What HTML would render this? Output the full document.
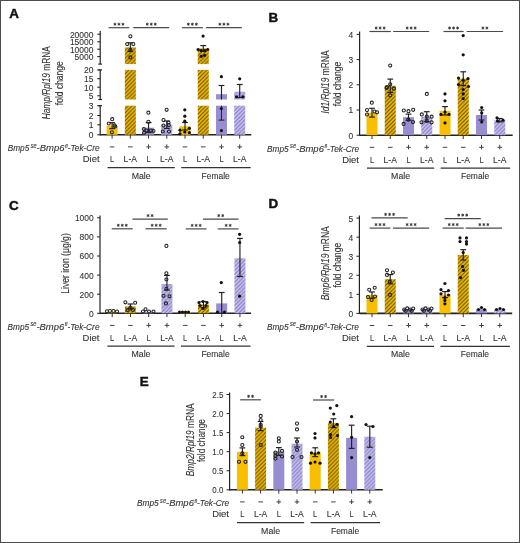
<!DOCTYPE html>
<html><head><meta charset="utf-8"><style>html,body{margin:0;padding:0;background:#fff;width:520px;height:543px;overflow:hidden} svg text{font-family:"Liberation Sans", sans-serif;stroke:#333;stroke-width:0.1px}</style></head>
<body><svg width="520" height="543" viewBox="0 0 520 543" style="display:block;filter:blur(0.4px)"><defs>
<pattern id="hy" patternUnits="userSpaceOnUse" width="3.9" height="3.9">
<rect width="3.9" height="3.9" fill="#f7bf00"/>
<path d="M-0.975,0.975 l1.95,-1.95 M0,3.9 l3.9,-3.9 M2.925,4.875 l1.95,-1.95" stroke="#664f00" stroke-width="1.15"/>
</pattern>
<pattern id="hp" patternUnits="userSpaceOnUse" width="3.9" height="3.9">
<rect width="3.9" height="3.9" fill="#8b83cb"/>
<path d="M-0.975,0.975 l1.95,-1.95 M0,3.9 l3.9,-3.9 M2.925,4.875 l1.95,-1.95" stroke="#d2cdf2" stroke-width="1.25"/>
</pattern>
</defs><rect x="0.5" y="0.5" width="519" height="542" fill="#fff" stroke="#4d4d4d" stroke-width="1"/><text x="9.2" y="18.2" font-size="13.4" font-weight="bold" fill="#111" style="stroke:#111;stroke-width:0.45px">A</text>
<line x1="100.20" y1="31.00" x2="100.20" y2="64.10" stroke="#222" stroke-width="1.2"/>
<line x1="98.40" y1="64.10" x2="102.00" y2="64.10" stroke="#222" stroke-width="1.2"/>
<line x1="100.20" y1="69.90" x2="100.20" y2="99.50" stroke="#222" stroke-width="1.2"/>
<line x1="98.40" y1="69.90" x2="102.00" y2="69.90" stroke="#222" stroke-width="1.2"/>
<line x1="98.40" y1="99.50" x2="102.00" y2="99.50" stroke="#222" stroke-width="1.2"/>
<line x1="100.20" y1="105.70" x2="100.20" y2="135.40" stroke="#222" stroke-width="1.2"/>
<line x1="98.40" y1="105.70" x2="102.00" y2="105.70" stroke="#222" stroke-width="1.2"/>
<line x1="97.20" y1="34.20" x2="100.20" y2="34.20" stroke="#222" stroke-width="1.0"/>
<text x="93.40" y="37.50" font-size="9.3" text-anchor="end" font-weight="normal" style="" fill="#333" textLength="23.5" lengthAdjust="spacingAndGlyphs" >20000</text>
<line x1="97.20" y1="41.80" x2="100.20" y2="41.80" stroke="#222" stroke-width="1.0"/>
<text x="93.40" y="45.10" font-size="9.3" text-anchor="end" font-weight="normal" style="" fill="#333" textLength="23.5" lengthAdjust="spacingAndGlyphs" >15000</text>
<line x1="97.20" y1="49.20" x2="100.20" y2="49.20" stroke="#222" stroke-width="1.0"/>
<text x="93.40" y="52.50" font-size="9.3" text-anchor="end" font-weight="normal" style="" fill="#333" textLength="23.5" lengthAdjust="spacingAndGlyphs" >10000</text>
<line x1="97.20" y1="56.60" x2="100.20" y2="56.60" stroke="#222" stroke-width="1.0"/>
<text x="93.40" y="59.90" font-size="9.3" text-anchor="end" font-weight="normal" style="" fill="#333" textLength="18.8" lengthAdjust="spacingAndGlyphs" >5000</text>
<line x1="97.20" y1="70.00" x2="100.20" y2="70.00" stroke="#222" stroke-width="1.0"/>
<text x="93.40" y="73.30" font-size="9.3" text-anchor="end" font-weight="normal" style="" fill="#333" textLength="9.4" lengthAdjust="spacingAndGlyphs" >20</text>
<line x1="97.20" y1="78.70" x2="100.20" y2="78.70" stroke="#222" stroke-width="1.0"/>
<text x="93.40" y="82.00" font-size="9.3" text-anchor="end" font-weight="normal" style="" fill="#333" textLength="9.4" lengthAdjust="spacingAndGlyphs" >15</text>
<line x1="97.20" y1="87.20" x2="100.20" y2="87.20" stroke="#222" stroke-width="1.0"/>
<text x="93.40" y="90.50" font-size="9.3" text-anchor="end" font-weight="normal" style="" fill="#333" textLength="9.4" lengthAdjust="spacingAndGlyphs" >10</text>
<line x1="97.20" y1="95.80" x2="100.20" y2="95.80" stroke="#222" stroke-width="1.0"/>
<text x="93.40" y="99.10" font-size="9.3" text-anchor="end" font-weight="normal" style="" fill="#333" textLength="4.7" lengthAdjust="spacingAndGlyphs" >5</text>
<line x1="97.20" y1="105.70" x2="100.20" y2="105.70" stroke="#222" stroke-width="1.0"/>
<text x="93.40" y="109.00" font-size="9.3" text-anchor="end" font-weight="normal" style="" fill="#333" textLength="4.7" lengthAdjust="spacingAndGlyphs" >3</text>
<line x1="97.20" y1="115.50" x2="100.20" y2="115.50" stroke="#222" stroke-width="1.0"/>
<text x="93.40" y="118.80" font-size="9.3" text-anchor="end" font-weight="normal" style="" fill="#333" textLength="4.7" lengthAdjust="spacingAndGlyphs" >2</text>
<line x1="97.20" y1="124.80" x2="100.20" y2="124.80" stroke="#222" stroke-width="1.0"/>
<text x="93.40" y="128.10" font-size="9.3" text-anchor="end" font-weight="normal" style="" fill="#333" textLength="4.7" lengthAdjust="spacingAndGlyphs" >1</text>
<line x1="97.20" y1="134.80" x2="100.20" y2="134.80" stroke="#222" stroke-width="1.0"/>
<text x="93.40" y="138.10" font-size="9.3" text-anchor="end" font-weight="normal" style="" fill="#333" textLength="4.7" lengthAdjust="spacingAndGlyphs" >0</text>
<line x1="100.20" y1="134.80" x2="251.30" y2="134.80" stroke="#222" stroke-width="1.6"/>
<text transform="translate(49.6,82.8) rotate(-90)" x="0" y="0" font-size="10.2" text-anchor="middle" fill="#333" textLength="73" lengthAdjust="spacingAndGlyphs"><tspan style="font-style:italic">Hamp/Rpl19</tspan><tspan style="font-style:normal"> mRNA</tspan></text>
<text transform="translate(63.0,83.2) rotate(-90)" x="0" y="0" font-size="10.2" text-anchor="middle" fill="#333" textLength="44" lengthAdjust="spacingAndGlyphs"><tspan style="font-style:normal">fold change</tspan></text>
<rect x="106.60" y="125.80" width="11.00" height="9.00" fill="#f7bf00"/>
<rect x="124.83" y="105.70" width="11.00" height="29.10" fill="url(#hy)"/>
<rect x="124.83" y="69.90" width="11.00" height="29.60" fill="url(#hy)"/>
<rect x="124.83" y="47.40" width="11.00" height="16.70" fill="url(#hy)"/>
<rect x="143.06" y="127.70" width="11.00" height="7.10" fill="#978ed1"/>
<rect x="161.29" y="124.70" width="11.00" height="10.10" fill="url(#hp)"/>
<rect x="179.52" y="126.30" width="11.00" height="8.50" fill="#f7bf00"/>
<rect x="197.75" y="105.70" width="11.00" height="29.10" fill="url(#hy)"/>
<rect x="197.75" y="69.90" width="11.00" height="29.60" fill="url(#hy)"/>
<rect x="197.75" y="48.50" width="11.00" height="15.60" fill="url(#hy)"/>
<rect x="215.98" y="105.70" width="11.00" height="29.10" fill="#978ed1"/>
<rect x="215.98" y="94.20" width="11.00" height="5.30" fill="#978ed1"/>
<rect x="234.21" y="105.70" width="11.00" height="29.10" fill="url(#hp)"/>
<rect x="234.21" y="91.70" width="11.00" height="7.80" fill="url(#hp)"/>
<line x1="112.10" y1="122.70" x2="112.10" y2="128.60" stroke="#222" stroke-width="1.15"/>
<line x1="109.20" y1="122.70" x2="115.00" y2="122.70" stroke="#222" stroke-width="1.2"/>
<line x1="109.20" y1="128.60" x2="115.00" y2="128.60" stroke="#222" stroke-width="1.2"/>
<line x1="130.33" y1="42.80" x2="130.33" y2="51.50" stroke="#222" stroke-width="1.15"/>
<line x1="127.43" y1="42.80" x2="133.23" y2="42.80" stroke="#222" stroke-width="1.2"/>
<line x1="127.43" y1="51.50" x2="133.23" y2="51.50" stroke="#222" stroke-width="1.2"/>
<line x1="148.56" y1="122.60" x2="148.56" y2="132.50" stroke="#222" stroke-width="1.15"/>
<line x1="145.66" y1="122.60" x2="151.46" y2="122.60" stroke="#222" stroke-width="1.2"/>
<line x1="145.66" y1="132.50" x2="151.46" y2="132.50" stroke="#222" stroke-width="1.2"/>
<line x1="166.79" y1="121.00" x2="166.79" y2="128.40" stroke="#222" stroke-width="1.15"/>
<line x1="163.89" y1="121.00" x2="169.69" y2="121.00" stroke="#222" stroke-width="1.2"/>
<line x1="163.89" y1="128.40" x2="169.69" y2="128.40" stroke="#222" stroke-width="1.2"/>
<line x1="185.02" y1="122.50" x2="185.02" y2="130.00" stroke="#222" stroke-width="1.15"/>
<line x1="182.12" y1="122.50" x2="187.92" y2="122.50" stroke="#222" stroke-width="1.2"/>
<line x1="182.12" y1="130.00" x2="187.92" y2="130.00" stroke="#222" stroke-width="1.2"/>
<line x1="203.25" y1="45.60" x2="203.25" y2="51.40" stroke="#222" stroke-width="1.15"/>
<line x1="200.35" y1="45.60" x2="206.15" y2="45.60" stroke="#222" stroke-width="1.2"/>
<line x1="200.35" y1="51.40" x2="206.15" y2="51.40" stroke="#222" stroke-width="1.2"/>
<line x1="221.48" y1="85.50" x2="221.48" y2="99.50" stroke="#222" stroke-width="1.15"/>
<line x1="218.58" y1="85.50" x2="224.38" y2="85.50" stroke="#222" stroke-width="1.2"/>
<line x1="221.48" y1="105.70" x2="221.48" y2="120.10" stroke="#222" stroke-width="1.0"/>
<line x1="218.58" y1="120.10" x2="224.38" y2="120.10" stroke="#222" stroke-width="1.1"/>
<line x1="239.71" y1="84.50" x2="239.71" y2="97.50" stroke="#222" stroke-width="1.15"/>
<line x1="236.81" y1="84.50" x2="242.61" y2="84.50" stroke="#222" stroke-width="1.2"/>
<line x1="236.81" y1="97.50" x2="242.61" y2="97.50" stroke="#222" stroke-width="1.2"/>
<circle cx="112.20" cy="119.20" r="1.55" fill="none" stroke="#222" stroke-width="1.05"/>
<circle cx="108.80" cy="123.50" r="1.55" fill="none" stroke="#222" stroke-width="1.05"/>
<circle cx="114.60" cy="125.40" r="1.55" fill="none" stroke="#222" stroke-width="1.05"/>
<circle cx="115.20" cy="126.50" r="1.55" fill="none" stroke="#222" stroke-width="1.05"/>
<circle cx="111.90" cy="132.20" r="1.55" fill="none" stroke="#222" stroke-width="1.05"/>
<circle cx="130.40" cy="36.30" r="1.55" fill="none" stroke="#222" stroke-width="1.05"/>
<circle cx="127.20" cy="44.10" r="1.55" fill="none" stroke="#222" stroke-width="1.05"/>
<circle cx="133.30" cy="44.10" r="1.55" fill="none" stroke="#222" stroke-width="1.05"/>
<circle cx="130.40" cy="49.90" r="1.55" fill="none" stroke="#222" stroke-width="1.05"/>
<circle cx="130.40" cy="57.40" r="1.55" fill="none" stroke="#222" stroke-width="1.05"/>
<circle cx="148.40" cy="112.70" r="1.55" fill="none" stroke="#222" stroke-width="1.05"/>
<circle cx="148.40" cy="121.80" r="1.55" fill="none" stroke="#222" stroke-width="1.05"/>
<circle cx="143.80" cy="129.00" r="1.55" fill="none" stroke="#222" stroke-width="1.05"/>
<circle cx="146.50" cy="130.50" r="1.55" fill="none" stroke="#222" stroke-width="1.05"/>
<circle cx="151.00" cy="130.50" r="1.55" fill="none" stroke="#222" stroke-width="1.05"/>
<circle cx="153.50" cy="131.00" r="1.55" fill="none" stroke="#222" stroke-width="1.05"/>
<circle cx="144.00" cy="132.80" r="1.55" fill="none" stroke="#222" stroke-width="1.05"/>
<circle cx="166.60" cy="109.80" r="1.55" fill="none" stroke="#222" stroke-width="1.05"/>
<circle cx="163.50" cy="120.10" r="1.55" fill="none" stroke="#222" stroke-width="1.05"/>
<circle cx="168.50" cy="122.50" r="1.55" fill="none" stroke="#222" stroke-width="1.05"/>
<circle cx="163.50" cy="125.50" r="1.55" fill="none" stroke="#222" stroke-width="1.05"/>
<circle cx="168.80" cy="125.20" r="1.55" fill="none" stroke="#222" stroke-width="1.05"/>
<circle cx="162.80" cy="131.50" r="1.55" fill="none" stroke="#222" stroke-width="1.05"/>
<circle cx="169.00" cy="131.50" r="1.55" fill="none" stroke="#222" stroke-width="1.05"/>
<circle cx="184.80" cy="109.80" r="1.6" fill="#111"/>
<circle cx="184.80" cy="116.20" r="1.6" fill="#111"/>
<circle cx="184.80" cy="121.20" r="1.6" fill="#111"/>
<circle cx="180.00" cy="130.20" r="1.6" fill="#111"/>
<circle cx="189.40" cy="128.30" r="1.6" fill="#111"/>
<circle cx="184.80" cy="131.90" r="1.6" fill="#111"/>
<circle cx="189.40" cy="132.70" r="1.6" fill="#111"/>
<circle cx="180.00" cy="133.80" r="1.6" fill="#111"/>
<circle cx="203.10" cy="36.10" r="1.6" fill="#111"/>
<circle cx="198.10" cy="49.50" r="1.6" fill="#111"/>
<circle cx="201.20" cy="50.70" r="1.6" fill="#111"/>
<circle cx="204.80" cy="50.70" r="1.6" fill="#111"/>
<circle cx="207.70" cy="49.50" r="1.6" fill="#111"/>
<circle cx="201.20" cy="56.30" r="1.6" fill="#111"/>
<circle cx="204.60" cy="55.30" r="1.6" fill="#111"/>
<circle cx="221.40" cy="76.70" r="1.6" fill="#111"/>
<circle cx="221.40" cy="108.50" r="1.6" fill="#111"/>
<circle cx="221.40" cy="130.60" r="1.6" fill="#111"/>
<circle cx="239.70" cy="78.80" r="1.6" fill="#111"/>
<circle cx="236.50" cy="96.80" r="1.6" fill="#111"/>
<circle cx="243.00" cy="96.80" r="1.6" fill="#111"/>
<line x1="108.60" y1="27.70" x2="129.30" y2="27.70" stroke="#4a4a4a" stroke-width="1.2"/>
<path d="M114.95,22.70V25.70M113.65,23.45L116.25,24.95M113.65,24.95L116.25,23.45" stroke="#333" stroke-width="0.9"/>
<path d="M118.95,22.70V25.70M117.65,23.45L120.25,24.95M117.65,24.95L120.25,23.45" stroke="#333" stroke-width="0.9"/>
<path d="M122.95,22.70V25.70M121.65,23.45L124.25,24.95M121.65,24.95L124.25,23.45" stroke="#333" stroke-width="0.9"/>
<line x1="133.30" y1="27.70" x2="169.20" y2="27.70" stroke="#4a4a4a" stroke-width="1.2"/>
<path d="M147.25,22.70V25.70M145.95,23.45L148.55,24.95M145.95,24.95L148.55,23.45" stroke="#333" stroke-width="0.9"/>
<path d="M151.25,22.70V25.70M149.95,23.45L152.55,24.95M149.95,24.95L152.55,23.45" stroke="#333" stroke-width="0.9"/>
<path d="M155.25,22.70V25.70M153.95,23.45L156.55,24.95M153.95,24.95L156.55,23.45" stroke="#333" stroke-width="0.9"/>
<line x1="181.80" y1="27.70" x2="202.90" y2="27.70" stroke="#4a4a4a" stroke-width="1.2"/>
<path d="M188.35,22.70V25.70M187.05,23.45L189.65,24.95M187.05,24.95L189.65,23.45" stroke="#333" stroke-width="0.9"/>
<path d="M192.35,22.70V25.70M191.05,23.45L193.65,24.95M191.05,24.95L193.65,23.45" stroke="#333" stroke-width="0.9"/>
<path d="M196.35,22.70V25.70M195.05,23.45L197.65,24.95M195.05,24.95L197.65,23.45" stroke="#333" stroke-width="0.9"/>
<line x1="206.00" y1="27.70" x2="241.80" y2="27.70" stroke="#4a4a4a" stroke-width="1.2"/>
<path d="M219.90,22.70V25.70M218.60,23.45L221.20,24.95M218.60,24.95L221.20,23.45" stroke="#333" stroke-width="0.9"/>
<path d="M223.90,22.70V25.70M222.60,23.45L225.20,24.95M222.60,24.95L225.20,23.45" stroke="#333" stroke-width="0.9"/>
<path d="M227.90,22.70V25.70M226.60,23.45L229.20,24.95M226.60,24.95L229.20,23.45" stroke="#333" stroke-width="0.9"/>
<line x1="112.10" y1="134.80" x2="112.10" y2="138.60" stroke="#333" stroke-width="1.0"/>
<line x1="109.80" y1="146.90" x2="114.40" y2="146.90" stroke="#444" stroke-width="1.0"/>
<text x="112.10" y="162.20" font-size="8.3" text-anchor="middle" font-weight="normal" style="" fill="#333" textLength="4.2" lengthAdjust="spacingAndGlyphs" >L</text>
<line x1="130.33" y1="134.80" x2="130.33" y2="138.60" stroke="#333" stroke-width="1.0"/>
<line x1="128.03" y1="146.90" x2="132.63" y2="146.90" stroke="#444" stroke-width="1.0"/>
<text x="130.33" y="162.20" font-size="8.3" text-anchor="middle" font-weight="normal" style="" fill="#333" textLength="13.4" lengthAdjust="spacingAndGlyphs" >L-A</text>
<line x1="148.56" y1="134.80" x2="148.56" y2="138.60" stroke="#333" stroke-width="1.0"/>
<line x1="146.26" y1="146.90" x2="150.86" y2="146.90" stroke="#444" stroke-width="1.0"/>
<line x1="148.56" y1="144.40" x2="148.56" y2="149.00" stroke="#444" stroke-width="1.0"/>
<text x="148.56" y="162.20" font-size="8.3" text-anchor="middle" font-weight="normal" style="" fill="#333" textLength="4.2" lengthAdjust="spacingAndGlyphs" >L</text>
<line x1="166.79" y1="134.80" x2="166.79" y2="138.60" stroke="#333" stroke-width="1.0"/>
<line x1="164.49" y1="146.90" x2="169.09" y2="146.90" stroke="#444" stroke-width="1.0"/>
<line x1="166.79" y1="144.40" x2="166.79" y2="149.00" stroke="#444" stroke-width="1.0"/>
<text x="166.79" y="162.20" font-size="8.3" text-anchor="middle" font-weight="normal" style="" fill="#333" textLength="13.4" lengthAdjust="spacingAndGlyphs" >L-A</text>
<line x1="185.02" y1="134.80" x2="185.02" y2="138.60" stroke="#333" stroke-width="1.0"/>
<line x1="182.72" y1="146.90" x2="187.32" y2="146.90" stroke="#444" stroke-width="1.0"/>
<text x="185.02" y="162.20" font-size="8.3" text-anchor="middle" font-weight="normal" style="" fill="#333" textLength="4.2" lengthAdjust="spacingAndGlyphs" >L</text>
<line x1="203.25" y1="134.80" x2="203.25" y2="138.60" stroke="#333" stroke-width="1.0"/>
<line x1="200.95" y1="146.90" x2="205.55" y2="146.90" stroke="#444" stroke-width="1.0"/>
<text x="203.25" y="162.20" font-size="8.3" text-anchor="middle" font-weight="normal" style="" fill="#333" textLength="13.4" lengthAdjust="spacingAndGlyphs" >L-A</text>
<line x1="221.48" y1="134.80" x2="221.48" y2="138.60" stroke="#333" stroke-width="1.0"/>
<line x1="219.18" y1="146.90" x2="223.78" y2="146.90" stroke="#444" stroke-width="1.0"/>
<line x1="221.48" y1="144.40" x2="221.48" y2="149.00" stroke="#444" stroke-width="1.0"/>
<text x="221.48" y="162.20" font-size="8.3" text-anchor="middle" font-weight="normal" style="" fill="#333" textLength="4.2" lengthAdjust="spacingAndGlyphs" >L</text>
<line x1="239.71" y1="134.80" x2="239.71" y2="138.60" stroke="#333" stroke-width="1.0"/>
<line x1="237.41" y1="146.90" x2="242.01" y2="146.90" stroke="#444" stroke-width="1.0"/>
<line x1="239.71" y1="144.40" x2="239.71" y2="149.00" stroke="#444" stroke-width="1.0"/>
<text x="239.71" y="162.20" font-size="8.3" text-anchor="middle" font-weight="normal" style="" fill="#333" textLength="13.4" lengthAdjust="spacingAndGlyphs" >L-A</text>
<line x1="107.60" y1="167.70" x2="174.80" y2="167.70" stroke="#333" stroke-width="1.3"/>
<line x1="181.20" y1="167.70" x2="250.70" y2="167.70" stroke="#333" stroke-width="1.3"/>
<text x="141.20" y="178.60" font-size="8.3" text-anchor="middle" font-weight="normal" style="" fill="#333" textLength="19" lengthAdjust="spacingAndGlyphs" >Male</text>
<text x="215.70" y="178.60" font-size="8.3" text-anchor="middle" font-weight="normal" style="" fill="#333" textLength="28.2" lengthAdjust="spacingAndGlyphs" >Female</text>
<text x="7.70" y="151.10" font-size="8.3" style="font-style:italic" fill="#333" textLength="21.6" lengthAdjust="spacingAndGlyphs">Bmp5</text>
<text x="30.70" y="147.50" font-size="7.4" style="font-style:italic" fill="#333" textLength="6.0" lengthAdjust="spacingAndGlyphs">se</text>
<text x="36.60" y="151.10" font-size="8.3" style="font-style:italic" fill="#333" textLength="27.9" lengthAdjust="spacingAndGlyphs">-Bmp6</text>
<text x="65.00" y="147.90" font-size="6.0" style="font-style:italic" fill="#333" textLength="2.6" lengthAdjust="spacingAndGlyphs">fl</text>
<text x="67.70" y="151.10" font-size="8.3" style="font-style:italic" fill="#333" textLength="32.0" lengthAdjust="spacingAndGlyphs">-Tek-Cre</text>
<text x="99.60" y="162.20" font-size="8.3" text-anchor="end" font-weight="normal" style="" fill="#333" textLength="16.8" lengthAdjust="spacingAndGlyphs" >Diet</text>
<text x="268.6" y="21.9" font-size="13.4" font-weight="bold" fill="#111" style="stroke:#111;stroke-width:0.45px">B</text>
<line x1="359.60" y1="31.50" x2="359.60" y2="135.80" stroke="#222" stroke-width="1.2"/>
<line x1="356.60" y1="135.20" x2="359.60" y2="135.20" stroke="#222" stroke-width="1.0"/>
<text x="353.30" y="138.65" font-size="9.6" text-anchor="end" font-weight="normal" style="" fill="#333" textLength="4.7" lengthAdjust="spacingAndGlyphs" >0</text>
<line x1="356.60" y1="110.00" x2="359.60" y2="110.00" stroke="#222" stroke-width="1.0"/>
<text x="353.30" y="113.45" font-size="9.6" text-anchor="end" font-weight="normal" style="" fill="#333" textLength="4.7" lengthAdjust="spacingAndGlyphs" >1</text>
<line x1="356.60" y1="84.80" x2="359.60" y2="84.80" stroke="#222" stroke-width="1.0"/>
<text x="353.30" y="88.25" font-size="9.6" text-anchor="end" font-weight="normal" style="" fill="#333" textLength="4.7" lengthAdjust="spacingAndGlyphs" >2</text>
<line x1="356.60" y1="59.60" x2="359.60" y2="59.60" stroke="#222" stroke-width="1.0"/>
<text x="353.30" y="63.05" font-size="9.6" text-anchor="end" font-weight="normal" style="" fill="#333" textLength="4.7" lengthAdjust="spacingAndGlyphs" >3</text>
<line x1="356.60" y1="34.40" x2="359.60" y2="34.40" stroke="#222" stroke-width="1.0"/>
<text x="353.30" y="37.85" font-size="9.6" text-anchor="end" font-weight="normal" style="" fill="#333" textLength="4.7" lengthAdjust="spacingAndGlyphs" >4</text>
<line x1="359.60" y1="135.20" x2="512.70" y2="135.20" stroke="#222" stroke-width="1.6"/>
<text transform="translate(328.6,82.0) rotate(-90)" x="0" y="0" font-size="10.2" text-anchor="middle" fill="#333" textLength="63" lengthAdjust="spacingAndGlyphs"><tspan style="font-style:italic">Id1/Rpl19</tspan><tspan style="font-style:normal"> mRNA</tspan></text>
<text transform="translate(341.0,84.0) rotate(-90)" x="0" y="0" font-size="10.2" text-anchor="middle" fill="#333" textLength="44.5" lengthAdjust="spacingAndGlyphs"><tspan style="font-style:normal">fold change</tspan></text>
<rect x="366.50" y="112.70" width="11.00" height="22.50" fill="#f7bf00"/>
<rect x="384.75" y="85.80" width="11.00" height="49.40" fill="url(#hy)"/>
<rect x="403.00" y="117.20" width="11.00" height="18.00" fill="#978ed1"/>
<rect x="421.25" y="116.70" width="11.00" height="18.50" fill="url(#hp)"/>
<rect x="439.50" y="110.80" width="11.00" height="24.40" fill="#f7bf00"/>
<rect x="457.75" y="78.70" width="11.00" height="56.50" fill="url(#hy)"/>
<rect x="476.00" y="115.00" width="11.00" height="20.20" fill="#978ed1"/>
<rect x="494.25" y="120.20" width="11.00" height="15.00" fill="url(#hp)"/>
<line x1="372.00" y1="108.30" x2="372.00" y2="117.10" stroke="#222" stroke-width="1.15"/>
<line x1="369.10" y1="108.30" x2="374.90" y2="108.30" stroke="#222" stroke-width="1.2"/>
<line x1="369.10" y1="117.10" x2="374.90" y2="117.10" stroke="#222" stroke-width="1.2"/>
<line x1="390.25" y1="79.10" x2="390.25" y2="92.50" stroke="#222" stroke-width="1.15"/>
<line x1="387.35" y1="79.10" x2="393.15" y2="79.10" stroke="#222" stroke-width="1.2"/>
<line x1="387.35" y1="92.50" x2="393.15" y2="92.50" stroke="#222" stroke-width="1.2"/>
<line x1="408.50" y1="114.10" x2="408.50" y2="120.30" stroke="#222" stroke-width="1.15"/>
<line x1="405.60" y1="114.10" x2="411.40" y2="114.10" stroke="#222" stroke-width="1.2"/>
<line x1="405.60" y1="120.30" x2="411.40" y2="120.30" stroke="#222" stroke-width="1.2"/>
<line x1="426.75" y1="111.70" x2="426.75" y2="121.70" stroke="#222" stroke-width="1.15"/>
<line x1="423.85" y1="111.70" x2="429.65" y2="111.70" stroke="#222" stroke-width="1.2"/>
<line x1="423.85" y1="121.70" x2="429.65" y2="121.70" stroke="#222" stroke-width="1.2"/>
<line x1="445.00" y1="106.60" x2="445.00" y2="115.00" stroke="#222" stroke-width="1.15"/>
<line x1="442.10" y1="106.60" x2="447.90" y2="106.60" stroke="#222" stroke-width="1.2"/>
<line x1="442.10" y1="115.00" x2="447.90" y2="115.00" stroke="#222" stroke-width="1.2"/>
<line x1="463.25" y1="71.80" x2="463.25" y2="85.60" stroke="#222" stroke-width="1.15"/>
<line x1="460.35" y1="71.80" x2="466.15" y2="71.80" stroke="#222" stroke-width="1.2"/>
<line x1="460.35" y1="85.60" x2="466.15" y2="85.60" stroke="#222" stroke-width="1.2"/>
<line x1="481.50" y1="110.00" x2="481.50" y2="120.00" stroke="#222" stroke-width="1.15"/>
<line x1="478.60" y1="110.00" x2="484.40" y2="110.00" stroke="#222" stroke-width="1.2"/>
<line x1="478.60" y1="120.00" x2="484.40" y2="120.00" stroke="#222" stroke-width="1.2"/>
<line x1="499.75" y1="118.50" x2="499.75" y2="121.90" stroke="#222" stroke-width="1.15"/>
<line x1="496.85" y1="118.50" x2="502.65" y2="118.50" stroke="#222" stroke-width="1.2"/>
<line x1="496.85" y1="121.90" x2="502.65" y2="121.90" stroke="#222" stroke-width="1.2"/>
<circle cx="371.80" cy="102.70" r="1.55" fill="none" stroke="#222" stroke-width="1.05"/>
<circle cx="367.00" cy="110.10" r="1.55" fill="none" stroke="#222" stroke-width="1.05"/>
<circle cx="377.00" cy="112.30" r="1.55" fill="none" stroke="#222" stroke-width="1.05"/>
<circle cx="367.00" cy="114.50" r="1.55" fill="none" stroke="#222" stroke-width="1.05"/>
<circle cx="374.50" cy="111.50" r="1.55" fill="none" stroke="#222" stroke-width="1.05"/>
<circle cx="390.20" cy="65.60" r="1.55" fill="none" stroke="#222" stroke-width="1.05"/>
<circle cx="390.20" cy="84.30" r="1.55" fill="none" stroke="#222" stroke-width="1.05"/>
<circle cx="387.00" cy="87.20" r="1.55" fill="none" stroke="#222" stroke-width="1.05"/>
<circle cx="394.00" cy="88.70" r="1.55" fill="none" stroke="#222" stroke-width="1.05"/>
<circle cx="390.20" cy="95.30" r="1.55" fill="none" stroke="#222" stroke-width="1.05"/>
<circle cx="386.50" cy="88.00" r="1.55" fill="none" stroke="#222" stroke-width="1.05"/>
<circle cx="403.80" cy="110.50" r="1.55" fill="none" stroke="#222" stroke-width="1.05"/>
<circle cx="408.50" cy="111.20" r="1.55" fill="none" stroke="#222" stroke-width="1.05"/>
<circle cx="413.20" cy="109.80" r="1.55" fill="none" stroke="#222" stroke-width="1.05"/>
<circle cx="408.30" cy="119.70" r="1.55" fill="none" stroke="#222" stroke-width="1.05"/>
<circle cx="403.60" cy="123.90" r="1.55" fill="none" stroke="#222" stroke-width="1.05"/>
<circle cx="413.00" cy="122.10" r="1.55" fill="none" stroke="#222" stroke-width="1.05"/>
<circle cx="426.80" cy="93.90" r="1.55" fill="none" stroke="#222" stroke-width="1.05"/>
<circle cx="421.80" cy="114.40" r="1.55" fill="none" stroke="#222" stroke-width="1.05"/>
<circle cx="426.80" cy="116.70" r="1.55" fill="none" stroke="#222" stroke-width="1.05"/>
<circle cx="431.60" cy="116.70" r="1.55" fill="none" stroke="#222" stroke-width="1.05"/>
<circle cx="421.50" cy="122.30" r="1.55" fill="none" stroke="#222" stroke-width="1.05"/>
<circle cx="426.80" cy="120.90" r="1.55" fill="none" stroke="#222" stroke-width="1.05"/>
<circle cx="431.60" cy="122.30" r="1.55" fill="none" stroke="#222" stroke-width="1.05"/>
<circle cx="445.00" cy="93.90" r="1.6" fill="#111"/>
<circle cx="445.00" cy="100.80" r="1.6" fill="#111"/>
<circle cx="441.00" cy="114.40" r="1.6" fill="#111"/>
<circle cx="449.00" cy="114.40" r="1.6" fill="#111"/>
<circle cx="445.00" cy="122.90" r="1.6" fill="#111"/>
<circle cx="445.00" cy="112.00" r="1.6" fill="#111"/>
<circle cx="463.20" cy="35.60" r="1.6" fill="#111"/>
<circle cx="463.20" cy="54.80" r="1.6" fill="#111"/>
<circle cx="458.50" cy="78.00" r="1.6" fill="#111"/>
<circle cx="468.00" cy="78.70" r="1.6" fill="#111"/>
<circle cx="463.20" cy="80.20" r="1.6" fill="#111"/>
<circle cx="458.50" cy="84.60" r="1.6" fill="#111"/>
<circle cx="468.50" cy="86.50" r="1.6" fill="#111"/>
<circle cx="463.20" cy="89.50" r="1.6" fill="#111"/>
<circle cx="463.20" cy="93.90" r="1.6" fill="#111"/>
<circle cx="463.20" cy="98.60" r="1.6" fill="#111"/>
<circle cx="481.70" cy="107.50" r="1.6" fill="#111"/>
<circle cx="481.70" cy="112.90" r="1.6" fill="#111"/>
<circle cx="481.70" cy="121.90" r="1.6" fill="#111"/>
<circle cx="497.00" cy="117.80" r="1.6" fill="#111"/>
<circle cx="503.00" cy="120.20" r="1.6" fill="#111"/>
<circle cx="497.50" cy="120.90" r="1.6" fill="#111"/>
<line x1="369.50" y1="31.50" x2="390.80" y2="31.50" stroke="#4a4a4a" stroke-width="1.2"/>
<path d="M376.15,26.50V29.50M374.85,27.25L377.45,28.75M374.85,28.75L377.45,27.25" stroke="#333" stroke-width="0.9"/>
<path d="M380.15,26.50V29.50M378.85,27.25L381.45,28.75M378.85,28.75L381.45,27.25" stroke="#333" stroke-width="0.9"/>
<path d="M384.15,26.50V29.50M382.85,27.25L385.45,28.75M382.85,28.75L385.45,27.25" stroke="#333" stroke-width="0.9"/>
<line x1="393.10" y1="31.50" x2="429.20" y2="31.50" stroke="#4a4a4a" stroke-width="1.2"/>
<path d="M407.15,26.50V29.50M405.85,27.25L408.45,28.75M405.85,28.75L408.45,27.25" stroke="#333" stroke-width="0.9"/>
<path d="M411.15,26.50V29.50M409.85,27.25L412.45,28.75M409.85,28.75L412.45,27.25" stroke="#333" stroke-width="0.9"/>
<path d="M415.15,26.50V29.50M413.85,27.25L416.45,28.75M413.85,28.75L416.45,27.25" stroke="#333" stroke-width="0.9"/>
<line x1="443.50" y1="31.50" x2="463.60" y2="31.50" stroke="#4a4a4a" stroke-width="1.2"/>
<path d="M449.55,26.50V29.50M448.25,27.25L450.85,28.75M448.25,28.75L450.85,27.25" stroke="#333" stroke-width="0.9"/>
<path d="M453.55,26.50V29.50M452.25,27.25L454.85,28.75M452.25,28.75L454.85,27.25" stroke="#333" stroke-width="0.9"/>
<path d="M457.55,26.50V29.50M456.25,27.25L458.85,28.75M456.25,28.75L458.85,27.25" stroke="#333" stroke-width="0.9"/>
<line x1="466.70" y1="31.50" x2="503.10" y2="31.50" stroke="#4a4a4a" stroke-width="1.2"/>
<path d="M482.90,26.50V29.50M481.60,27.25L484.20,28.75M481.60,28.75L484.20,27.25" stroke="#333" stroke-width="0.9"/>
<path d="M486.90,26.50V29.50M485.60,27.25L488.20,28.75M485.60,28.75L488.20,27.25" stroke="#333" stroke-width="0.9"/>
<line x1="372.00" y1="135.20" x2="372.00" y2="139.00" stroke="#333" stroke-width="1.0"/>
<line x1="369.70" y1="147.30" x2="374.30" y2="147.30" stroke="#444" stroke-width="1.0"/>
<text x="372.00" y="162.60" font-size="8.3" text-anchor="middle" font-weight="normal" style="" fill="#333" textLength="4.2" lengthAdjust="spacingAndGlyphs" >L</text>
<line x1="390.25" y1="135.20" x2="390.25" y2="139.00" stroke="#333" stroke-width="1.0"/>
<line x1="387.95" y1="147.30" x2="392.55" y2="147.30" stroke="#444" stroke-width="1.0"/>
<text x="390.25" y="162.60" font-size="8.3" text-anchor="middle" font-weight="normal" style="" fill="#333" textLength="13.4" lengthAdjust="spacingAndGlyphs" >L-A</text>
<line x1="408.50" y1="135.20" x2="408.50" y2="139.00" stroke="#333" stroke-width="1.0"/>
<line x1="406.20" y1="147.30" x2="410.80" y2="147.30" stroke="#444" stroke-width="1.0"/>
<line x1="408.50" y1="144.80" x2="408.50" y2="149.40" stroke="#444" stroke-width="1.0"/>
<text x="408.50" y="162.60" font-size="8.3" text-anchor="middle" font-weight="normal" style="" fill="#333" textLength="4.2" lengthAdjust="spacingAndGlyphs" >L</text>
<line x1="426.75" y1="135.20" x2="426.75" y2="139.00" stroke="#333" stroke-width="1.0"/>
<line x1="424.45" y1="147.30" x2="429.05" y2="147.30" stroke="#444" stroke-width="1.0"/>
<line x1="426.75" y1="144.80" x2="426.75" y2="149.40" stroke="#444" stroke-width="1.0"/>
<text x="426.75" y="162.60" font-size="8.3" text-anchor="middle" font-weight="normal" style="" fill="#333" textLength="13.4" lengthAdjust="spacingAndGlyphs" >L-A</text>
<line x1="445.00" y1="135.20" x2="445.00" y2="139.00" stroke="#333" stroke-width="1.0"/>
<line x1="442.70" y1="147.30" x2="447.30" y2="147.30" stroke="#444" stroke-width="1.0"/>
<text x="445.00" y="162.60" font-size="8.3" text-anchor="middle" font-weight="normal" style="" fill="#333" textLength="4.2" lengthAdjust="spacingAndGlyphs" >L</text>
<line x1="463.25" y1="135.20" x2="463.25" y2="139.00" stroke="#333" stroke-width="1.0"/>
<line x1="460.95" y1="147.30" x2="465.55" y2="147.30" stroke="#444" stroke-width="1.0"/>
<text x="463.25" y="162.60" font-size="8.3" text-anchor="middle" font-weight="normal" style="" fill="#333" textLength="13.4" lengthAdjust="spacingAndGlyphs" >L-A</text>
<line x1="481.50" y1="135.20" x2="481.50" y2="139.00" stroke="#333" stroke-width="1.0"/>
<line x1="479.20" y1="147.30" x2="483.80" y2="147.30" stroke="#444" stroke-width="1.0"/>
<line x1="481.50" y1="144.80" x2="481.50" y2="149.40" stroke="#444" stroke-width="1.0"/>
<text x="481.50" y="162.60" font-size="8.3" text-anchor="middle" font-weight="normal" style="" fill="#333" textLength="4.2" lengthAdjust="spacingAndGlyphs" >L</text>
<line x1="499.75" y1="135.20" x2="499.75" y2="139.00" stroke="#333" stroke-width="1.0"/>
<line x1="497.45" y1="147.30" x2="502.05" y2="147.30" stroke="#444" stroke-width="1.0"/>
<line x1="499.75" y1="144.80" x2="499.75" y2="149.40" stroke="#444" stroke-width="1.0"/>
<text x="499.75" y="162.60" font-size="8.3" text-anchor="middle" font-weight="normal" style="" fill="#333" textLength="13.4" lengthAdjust="spacingAndGlyphs" >L-A</text>
<line x1="367.00" y1="168.10" x2="434.20" y2="168.10" stroke="#333" stroke-width="1.3"/>
<line x1="440.60" y1="168.10" x2="510.10" y2="168.10" stroke="#333" stroke-width="1.3"/>
<text x="400.60" y="179.00" font-size="8.3" text-anchor="middle" font-weight="normal" style="" fill="#333" textLength="19" lengthAdjust="spacingAndGlyphs" >Male</text>
<text x="475.10" y="179.00" font-size="8.3" text-anchor="middle" font-weight="normal" style="" fill="#333" textLength="28.2" lengthAdjust="spacingAndGlyphs" >Female</text>
<text x="267.10" y="151.50" font-size="8.3" style="font-style:italic" fill="#333" textLength="21.6" lengthAdjust="spacingAndGlyphs">Bmp5</text>
<text x="290.10" y="147.90" font-size="7.4" style="font-style:italic" fill="#333" textLength="6.0" lengthAdjust="spacingAndGlyphs">se</text>
<text x="296.00" y="151.50" font-size="8.3" style="font-style:italic" fill="#333" textLength="27.9" lengthAdjust="spacingAndGlyphs">-Bmp6</text>
<text x="324.40" y="148.30" font-size="6.0" style="font-style:italic" fill="#333" textLength="2.6" lengthAdjust="spacingAndGlyphs">fl</text>
<text x="327.10" y="151.50" font-size="8.3" style="font-style:italic" fill="#333" textLength="32.0" lengthAdjust="spacingAndGlyphs">-Tek-Cre</text>
<text x="359.00" y="162.60" font-size="8.3" text-anchor="end" font-weight="normal" style="" fill="#333" textLength="16.8" lengthAdjust="spacingAndGlyphs" >Diet</text>
<text x="9.0" y="209.7" font-size="13.4" font-weight="bold" fill="#111" style="stroke:#111;stroke-width:0.45px">C</text>
<line x1="100.00" y1="215.50" x2="100.00" y2="313.90" stroke="#222" stroke-width="1.2"/>
<line x1="97.00" y1="313.30" x2="100.00" y2="313.30" stroke="#222" stroke-width="1.0"/>
<text x="93.70" y="316.75" font-size="9.6" text-anchor="end" font-weight="normal" style="" fill="#333" textLength="4.7" lengthAdjust="spacingAndGlyphs" >0</text>
<line x1="97.00" y1="294.20" x2="100.00" y2="294.20" stroke="#222" stroke-width="1.0"/>
<text x="93.70" y="297.65" font-size="9.6" text-anchor="end" font-weight="normal" style="" fill="#333" textLength="14.1" lengthAdjust="spacingAndGlyphs" >200</text>
<line x1="97.00" y1="275.10" x2="100.00" y2="275.10" stroke="#222" stroke-width="1.0"/>
<text x="93.70" y="278.55" font-size="9.6" text-anchor="end" font-weight="normal" style="" fill="#333" textLength="14.1" lengthAdjust="spacingAndGlyphs" >400</text>
<line x1="97.00" y1="256.00" x2="100.00" y2="256.00" stroke="#222" stroke-width="1.0"/>
<text x="93.70" y="259.45" font-size="9.6" text-anchor="end" font-weight="normal" style="" fill="#333" textLength="14.1" lengthAdjust="spacingAndGlyphs" >600</text>
<line x1="97.00" y1="236.90" x2="100.00" y2="236.90" stroke="#222" stroke-width="1.0"/>
<text x="93.70" y="240.35" font-size="9.6" text-anchor="end" font-weight="normal" style="" fill="#333" textLength="14.1" lengthAdjust="spacingAndGlyphs" >800</text>
<line x1="97.00" y1="217.80" x2="100.00" y2="217.80" stroke="#222" stroke-width="1.0"/>
<text x="93.70" y="221.25" font-size="9.6" text-anchor="end" font-weight="normal" style="" fill="#333" textLength="18.8" lengthAdjust="spacingAndGlyphs" >1000</text>
<line x1="100.00" y1="313.30" x2="251.10" y2="313.30" stroke="#222" stroke-width="1.6"/>
<text transform="translate(68.6,263.5) rotate(-90)" x="0" y="0" font-size="10.2" text-anchor="middle" fill="#333" textLength="60.5" lengthAdjust="spacingAndGlyphs"><tspan style="font-style:normal">Liver iron (μg/g)</tspan></text>
<rect x="106.70" y="311.80" width="11.00" height="1.50" fill="#f7bf00"/>
<rect x="124.95" y="306.50" width="11.00" height="6.80" fill="url(#hy)"/>
<rect x="143.20" y="311.80" width="11.00" height="1.50" fill="#978ed1"/>
<rect x="161.45" y="284.00" width="11.00" height="29.30" fill="url(#hp)"/>
<rect x="179.70" y="312.00" width="11.00" height="1.30" fill="#f7bf00"/>
<rect x="197.95" y="304.60" width="11.00" height="8.70" fill="url(#hy)"/>
<rect x="216.20" y="303.40" width="11.00" height="9.90" fill="#978ed1"/>
<rect x="234.45" y="258.30" width="11.00" height="55.00" fill="url(#hp)"/>
<line x1="130.45" y1="304.00" x2="130.45" y2="309.00" stroke="#222" stroke-width="1.15"/>
<line x1="127.55" y1="304.00" x2="133.35" y2="304.00" stroke="#222" stroke-width="1.2"/>
<line x1="127.55" y1="309.00" x2="133.35" y2="309.00" stroke="#222" stroke-width="1.2"/>
<line x1="166.95" y1="275.40" x2="166.95" y2="290.10" stroke="#222" stroke-width="1.15"/>
<line x1="164.05" y1="275.40" x2="169.85" y2="275.40" stroke="#222" stroke-width="1.2"/>
<line x1="164.05" y1="290.10" x2="169.85" y2="290.10" stroke="#222" stroke-width="1.2"/>
<line x1="203.45" y1="301.50" x2="203.45" y2="307.70" stroke="#222" stroke-width="1.15"/>
<line x1="200.55" y1="301.50" x2="206.35" y2="301.50" stroke="#222" stroke-width="1.2"/>
<line x1="200.55" y1="307.70" x2="206.35" y2="307.70" stroke="#222" stroke-width="1.2"/>
<line x1="221.70" y1="292.50" x2="221.70" y2="313.30" stroke="#222" stroke-width="1.15"/>
<line x1="218.80" y1="292.50" x2="224.60" y2="292.50" stroke="#222" stroke-width="1.2"/>
<line x1="218.80" y1="313.30" x2="224.60" y2="313.30" stroke="#222" stroke-width="1.2"/>
<line x1="239.95" y1="238.40" x2="239.95" y2="276.50" stroke="#222" stroke-width="1.15"/>
<line x1="237.05" y1="238.40" x2="242.85" y2="238.40" stroke="#222" stroke-width="1.2"/>
<line x1="237.05" y1="276.50" x2="242.85" y2="276.50" stroke="#222" stroke-width="1.2"/>
<circle cx="107.00" cy="311.30" r="1.55" fill="none" stroke="#222" stroke-width="1.05"/>
<circle cx="110.00" cy="311.00" r="1.55" fill="none" stroke="#222" stroke-width="1.05"/>
<circle cx="113.50" cy="311.00" r="1.55" fill="none" stroke="#222" stroke-width="1.05"/>
<circle cx="117.00" cy="311.50" r="1.55" fill="none" stroke="#222" stroke-width="1.05"/>
<circle cx="125.40" cy="302.30" r="1.55" fill="none" stroke="#222" stroke-width="1.05"/>
<circle cx="135.20" cy="302.70" r="1.55" fill="none" stroke="#222" stroke-width="1.05"/>
<circle cx="127.50" cy="310.00" r="1.55" fill="none" stroke="#222" stroke-width="1.05"/>
<circle cx="133.00" cy="310.00" r="1.55" fill="none" stroke="#222" stroke-width="1.05"/>
<circle cx="130.40" cy="307.50" r="1.55" fill="none" stroke="#222" stroke-width="1.05"/>
<circle cx="143.00" cy="311.50" r="1.55" fill="none" stroke="#222" stroke-width="1.05"/>
<circle cx="145.50" cy="309.30" r="1.55" fill="none" stroke="#222" stroke-width="1.05"/>
<circle cx="149.00" cy="311.50" r="1.55" fill="none" stroke="#222" stroke-width="1.05"/>
<circle cx="153.50" cy="311.50" r="1.55" fill="none" stroke="#222" stroke-width="1.05"/>
<circle cx="166.40" cy="245.90" r="1.55" fill="none" stroke="#222" stroke-width="1.05"/>
<circle cx="166.40" cy="273.20" r="1.55" fill="none" stroke="#222" stroke-width="1.05"/>
<circle cx="166.40" cy="279.50" r="1.55" fill="none" stroke="#222" stroke-width="1.05"/>
<circle cx="166.40" cy="288.70" r="1.55" fill="none" stroke="#222" stroke-width="1.05"/>
<circle cx="163.50" cy="295.80" r="1.55" fill="none" stroke="#222" stroke-width="1.05"/>
<circle cx="169.50" cy="296.30" r="1.55" fill="none" stroke="#222" stroke-width="1.05"/>
<circle cx="166.00" cy="303.40" r="1.55" fill="none" stroke="#222" stroke-width="1.05"/>
<circle cx="179.50" cy="312.00" r="1.6" fill="#111"/>
<circle cx="182.50" cy="312.00" r="1.6" fill="#111"/>
<circle cx="185.50" cy="312.00" r="1.6" fill="#111"/>
<circle cx="188.50" cy="312.00" r="1.6" fill="#111"/>
<circle cx="199.00" cy="302.50" r="1.6" fill="#111"/>
<circle cx="203.00" cy="301.50" r="1.6" fill="#111"/>
<circle cx="207.00" cy="302.50" r="1.6" fill="#111"/>
<circle cx="200.00" cy="305.50" r="1.6" fill="#111"/>
<circle cx="206.00" cy="305.50" r="1.6" fill="#111"/>
<circle cx="203.00" cy="308.50" r="1.6" fill="#111"/>
<circle cx="221.30" cy="282.60" r="1.6" fill="#111"/>
<circle cx="217.50" cy="312.20" r="1.6" fill="#111"/>
<circle cx="224.50" cy="312.20" r="1.6" fill="#111"/>
<circle cx="239.60" cy="234.30" r="1.6" fill="#111"/>
<circle cx="239.60" cy="242.50" r="1.6" fill="#111"/>
<circle cx="239.60" cy="296.20" r="1.6" fill="#111"/>
<line x1="111.70" y1="228.80" x2="132.80" y2="228.80" stroke="#4a4a4a" stroke-width="1.2"/>
<path d="M118.25,223.80V226.80M116.95,224.55L119.55,226.05M116.95,226.05L119.55,224.55" stroke="#333" stroke-width="0.9"/>
<path d="M122.25,223.80V226.80M120.95,224.55L123.55,226.05M120.95,226.05L123.55,224.55" stroke="#333" stroke-width="0.9"/>
<path d="M126.25,223.80V226.80M124.95,224.55L127.55,226.05M124.95,226.05L127.55,224.55" stroke="#333" stroke-width="0.9"/>
<line x1="132.40" y1="219.10" x2="167.80" y2="219.10" stroke="#4a4a4a" stroke-width="1.2"/>
<path d="M148.10,214.10V217.10M146.80,214.85L149.40,216.35M146.80,216.35L149.40,214.85" stroke="#333" stroke-width="0.9"/>
<path d="M152.10,214.10V217.10M150.80,214.85L153.40,216.35M150.80,216.35L153.40,214.85" stroke="#333" stroke-width="0.9"/>
<line x1="145.50" y1="228.80" x2="166.80" y2="228.80" stroke="#4a4a4a" stroke-width="1.2"/>
<path d="M152.15,223.80V226.80M150.85,224.55L153.45,226.05M150.85,226.05L153.45,224.55" stroke="#333" stroke-width="0.9"/>
<path d="M156.15,223.80V226.80M154.85,224.55L157.45,226.05M154.85,226.05L157.45,224.55" stroke="#333" stroke-width="0.9"/>
<path d="M160.15,223.80V226.80M158.85,224.55L161.45,226.05M158.85,226.05L161.45,224.55" stroke="#333" stroke-width="0.9"/>
<line x1="185.80" y1="228.90" x2="206.50" y2="228.90" stroke="#4a4a4a" stroke-width="1.2"/>
<path d="M192.15,223.90V226.90M190.85,224.65L193.45,226.15M190.85,226.15L193.45,224.65" stroke="#333" stroke-width="0.9"/>
<path d="M196.15,223.90V226.90M194.85,224.65L197.45,226.15M194.85,226.15L197.45,224.65" stroke="#333" stroke-width="0.9"/>
<path d="M200.15,223.90V226.90M198.85,224.65L201.45,226.15M198.85,226.15L201.45,224.65" stroke="#333" stroke-width="0.9"/>
<line x1="202.90" y1="219.10" x2="238.60" y2="219.10" stroke="#4a4a4a" stroke-width="1.2"/>
<path d="M218.75,214.10V217.10M217.45,214.85L220.05,216.35M217.45,216.35L220.05,214.85" stroke="#333" stroke-width="0.9"/>
<path d="M222.75,214.10V217.10M221.45,214.85L224.05,216.35M221.45,216.35L224.05,214.85" stroke="#333" stroke-width="0.9"/>
<line x1="217.70" y1="228.90" x2="238.60" y2="228.90" stroke="#4a4a4a" stroke-width="1.2"/>
<path d="M226.15,223.90V226.90M224.85,224.65L227.45,226.15M224.85,226.15L227.45,224.65" stroke="#333" stroke-width="0.9"/>
<path d="M230.15,223.90V226.90M228.85,224.65L231.45,226.15M228.85,226.15L231.45,224.65" stroke="#333" stroke-width="0.9"/>
<line x1="112.20" y1="313.30" x2="112.20" y2="317.10" stroke="#333" stroke-width="1.0"/>
<line x1="109.90" y1="325.40" x2="114.50" y2="325.40" stroke="#444" stroke-width="1.0"/>
<text x="112.20" y="340.70" font-size="8.3" text-anchor="middle" font-weight="normal" style="" fill="#333" textLength="4.2" lengthAdjust="spacingAndGlyphs" >L</text>
<line x1="130.45" y1="313.30" x2="130.45" y2="317.10" stroke="#333" stroke-width="1.0"/>
<line x1="128.15" y1="325.40" x2="132.75" y2="325.40" stroke="#444" stroke-width="1.0"/>
<text x="130.45" y="340.70" font-size="8.3" text-anchor="middle" font-weight="normal" style="" fill="#333" textLength="13.4" lengthAdjust="spacingAndGlyphs" >L-A</text>
<line x1="148.70" y1="313.30" x2="148.70" y2="317.10" stroke="#333" stroke-width="1.0"/>
<line x1="146.40" y1="325.40" x2="151.00" y2="325.40" stroke="#444" stroke-width="1.0"/>
<line x1="148.70" y1="322.90" x2="148.70" y2="327.50" stroke="#444" stroke-width="1.0"/>
<text x="148.70" y="340.70" font-size="8.3" text-anchor="middle" font-weight="normal" style="" fill="#333" textLength="4.2" lengthAdjust="spacingAndGlyphs" >L</text>
<line x1="166.95" y1="313.30" x2="166.95" y2="317.10" stroke="#333" stroke-width="1.0"/>
<line x1="164.65" y1="325.40" x2="169.25" y2="325.40" stroke="#444" stroke-width="1.0"/>
<line x1="166.95" y1="322.90" x2="166.95" y2="327.50" stroke="#444" stroke-width="1.0"/>
<text x="166.95" y="340.70" font-size="8.3" text-anchor="middle" font-weight="normal" style="" fill="#333" textLength="13.4" lengthAdjust="spacingAndGlyphs" >L-A</text>
<line x1="185.20" y1="313.30" x2="185.20" y2="317.10" stroke="#333" stroke-width="1.0"/>
<line x1="182.90" y1="325.40" x2="187.50" y2="325.40" stroke="#444" stroke-width="1.0"/>
<text x="185.20" y="340.70" font-size="8.3" text-anchor="middle" font-weight="normal" style="" fill="#333" textLength="4.2" lengthAdjust="spacingAndGlyphs" >L</text>
<line x1="203.45" y1="313.30" x2="203.45" y2="317.10" stroke="#333" stroke-width="1.0"/>
<line x1="201.15" y1="325.40" x2="205.75" y2="325.40" stroke="#444" stroke-width="1.0"/>
<text x="203.45" y="340.70" font-size="8.3" text-anchor="middle" font-weight="normal" style="" fill="#333" textLength="13.4" lengthAdjust="spacingAndGlyphs" >L-A</text>
<line x1="221.70" y1="313.30" x2="221.70" y2="317.10" stroke="#333" stroke-width="1.0"/>
<line x1="219.40" y1="325.40" x2="224.00" y2="325.40" stroke="#444" stroke-width="1.0"/>
<line x1="221.70" y1="322.90" x2="221.70" y2="327.50" stroke="#444" stroke-width="1.0"/>
<text x="221.70" y="340.70" font-size="8.3" text-anchor="middle" font-weight="normal" style="" fill="#333" textLength="4.2" lengthAdjust="spacingAndGlyphs" >L</text>
<line x1="239.95" y1="313.30" x2="239.95" y2="317.10" stroke="#333" stroke-width="1.0"/>
<line x1="237.65" y1="325.40" x2="242.25" y2="325.40" stroke="#444" stroke-width="1.0"/>
<line x1="239.95" y1="322.90" x2="239.95" y2="327.50" stroke="#444" stroke-width="1.0"/>
<text x="239.95" y="340.70" font-size="8.3" text-anchor="middle" font-weight="normal" style="" fill="#333" textLength="13.4" lengthAdjust="spacingAndGlyphs" >L-A</text>
<line x1="107.40" y1="346.20" x2="174.60" y2="346.20" stroke="#333" stroke-width="1.3"/>
<line x1="181.00" y1="346.20" x2="250.50" y2="346.20" stroke="#333" stroke-width="1.3"/>
<text x="141.00" y="357.10" font-size="8.3" text-anchor="middle" font-weight="normal" style="" fill="#333" textLength="19" lengthAdjust="spacingAndGlyphs" >Male</text>
<text x="215.50" y="357.10" font-size="8.3" text-anchor="middle" font-weight="normal" style="" fill="#333" textLength="28.2" lengthAdjust="spacingAndGlyphs" >Female</text>
<text x="7.50" y="329.60" font-size="8.3" style="font-style:italic" fill="#333" textLength="21.6" lengthAdjust="spacingAndGlyphs">Bmp5</text>
<text x="30.50" y="326.00" font-size="7.4" style="font-style:italic" fill="#333" textLength="6.0" lengthAdjust="spacingAndGlyphs">se</text>
<text x="36.40" y="329.60" font-size="8.3" style="font-style:italic" fill="#333" textLength="27.9" lengthAdjust="spacingAndGlyphs">-Bmp6</text>
<text x="64.80" y="326.40" font-size="6.0" style="font-style:italic" fill="#333" textLength="2.6" lengthAdjust="spacingAndGlyphs">fl</text>
<text x="67.50" y="329.60" font-size="8.3" style="font-style:italic" fill="#333" textLength="32.0" lengthAdjust="spacingAndGlyphs">-Tek-Cre</text>
<text x="99.40" y="340.70" font-size="8.3" text-anchor="end" font-weight="normal" style="" fill="#333" textLength="16.8" lengthAdjust="spacingAndGlyphs" >Diet</text>
<text x="268.6" y="208.1" font-size="13.4" font-weight="bold" fill="#111" style="stroke:#111;stroke-width:0.45px">D</text>
<line x1="359.40" y1="215.50" x2="359.40" y2="314.00" stroke="#222" stroke-width="1.2"/>
<line x1="356.40" y1="313.40" x2="359.40" y2="313.40" stroke="#222" stroke-width="1.0"/>
<text x="353.10" y="316.85" font-size="9.6" text-anchor="end" font-weight="normal" style="" fill="#333" textLength="4.7" lengthAdjust="spacingAndGlyphs" >0</text>
<line x1="356.40" y1="294.34" x2="359.40" y2="294.34" stroke="#222" stroke-width="1.0"/>
<text x="353.10" y="297.79" font-size="9.6" text-anchor="end" font-weight="normal" style="" fill="#333" textLength="4.7" lengthAdjust="spacingAndGlyphs" >1</text>
<line x1="356.40" y1="275.28" x2="359.40" y2="275.28" stroke="#222" stroke-width="1.0"/>
<text x="353.10" y="278.73" font-size="9.6" text-anchor="end" font-weight="normal" style="" fill="#333" textLength="4.7" lengthAdjust="spacingAndGlyphs" >2</text>
<line x1="356.40" y1="256.22" x2="359.40" y2="256.22" stroke="#222" stroke-width="1.0"/>
<text x="353.10" y="259.67" font-size="9.6" text-anchor="end" font-weight="normal" style="" fill="#333" textLength="4.7" lengthAdjust="spacingAndGlyphs" >3</text>
<line x1="356.40" y1="237.16" x2="359.40" y2="237.16" stroke="#222" stroke-width="1.0"/>
<text x="353.10" y="240.61" font-size="9.6" text-anchor="end" font-weight="normal" style="" fill="#333" textLength="4.7" lengthAdjust="spacingAndGlyphs" >4</text>
<line x1="356.40" y1="218.10" x2="359.40" y2="218.10" stroke="#222" stroke-width="1.0"/>
<text x="353.10" y="221.55" font-size="9.6" text-anchor="end" font-weight="normal" style="" fill="#333" textLength="4.7" lengthAdjust="spacingAndGlyphs" >5</text>
<line x1="359.40" y1="313.40" x2="512.20" y2="313.40" stroke="#222" stroke-width="1.6"/>
<text transform="translate(328.6,263.3) rotate(-90)" x="0" y="0" font-size="10.2" text-anchor="middle" fill="#333" textLength="74" lengthAdjust="spacingAndGlyphs"><tspan style="font-style:italic">Bmp6/Rpl19</tspan><tspan style="font-style:normal"> mRNA</tspan></text>
<text transform="translate(341.0,265.1) rotate(-90)" x="0" y="0" font-size="10.2" text-anchor="middle" fill="#333" textLength="45" lengthAdjust="spacingAndGlyphs"><tspan style="font-style:normal">fold change</tspan></text>
<rect x="366.50" y="295.10" width="11.00" height="18.30" fill="#f7bf00"/>
<rect x="384.75" y="279.20" width="11.00" height="34.20" fill="url(#hy)"/>
<rect x="403.00" y="309.00" width="11.00" height="4.40" fill="#978ed1"/>
<rect x="421.25" y="309.00" width="11.00" height="4.40" fill="url(#hp)"/>
<rect x="439.50" y="294.60" width="11.00" height="18.80" fill="#f7bf00"/>
<rect x="457.75" y="254.90" width="11.00" height="58.50" fill="url(#hy)"/>
<rect x="476.00" y="309.20" width="11.00" height="4.20" fill="#978ed1"/>
<rect x="494.25" y="309.50" width="11.00" height="3.90" fill="url(#hp)"/>
<line x1="372.00" y1="292.00" x2="372.00" y2="298.20" stroke="#222" stroke-width="1.15"/>
<line x1="369.10" y1="292.00" x2="374.90" y2="292.00" stroke="#222" stroke-width="1.2"/>
<line x1="369.10" y1="298.20" x2="374.90" y2="298.20" stroke="#222" stroke-width="1.2"/>
<line x1="390.25" y1="274.60" x2="390.25" y2="283.80" stroke="#222" stroke-width="1.15"/>
<line x1="387.35" y1="274.60" x2="393.15" y2="274.60" stroke="#222" stroke-width="1.2"/>
<line x1="387.35" y1="283.80" x2="393.15" y2="283.80" stroke="#222" stroke-width="1.2"/>
<line x1="445.00" y1="291.60" x2="445.00" y2="297.60" stroke="#222" stroke-width="1.15"/>
<line x1="442.10" y1="291.60" x2="447.90" y2="291.60" stroke="#222" stroke-width="1.2"/>
<line x1="442.10" y1="297.60" x2="447.90" y2="297.60" stroke="#222" stroke-width="1.2"/>
<line x1="463.25" y1="249.70" x2="463.25" y2="260.10" stroke="#222" stroke-width="1.15"/>
<line x1="460.35" y1="249.70" x2="466.15" y2="249.70" stroke="#222" stroke-width="1.2"/>
<line x1="460.35" y1="260.10" x2="466.15" y2="260.10" stroke="#222" stroke-width="1.2"/>
<circle cx="369.20" cy="289.70" r="1.55" fill="none" stroke="#222" stroke-width="1.05"/>
<circle cx="374.70" cy="287.70" r="1.55" fill="none" stroke="#222" stroke-width="1.05"/>
<circle cx="368.00" cy="297.00" r="1.55" fill="none" stroke="#222" stroke-width="1.05"/>
<circle cx="375.00" cy="296.50" r="1.55" fill="none" stroke="#222" stroke-width="1.05"/>
<circle cx="371.60" cy="300.00" r="1.55" fill="none" stroke="#222" stroke-width="1.05"/>
<circle cx="387.00" cy="270.30" r="1.55" fill="none" stroke="#222" stroke-width="1.05"/>
<circle cx="392.90" cy="272.50" r="1.55" fill="none" stroke="#222" stroke-width="1.05"/>
<circle cx="387.00" cy="274.90" r="1.55" fill="none" stroke="#222" stroke-width="1.05"/>
<circle cx="389.80" cy="281.60" r="1.55" fill="none" stroke="#222" stroke-width="1.05"/>
<circle cx="390.10" cy="294.90" r="1.55" fill="none" stroke="#222" stroke-width="1.05"/>
<circle cx="404.20" cy="309.60" r="1.55" fill="none" stroke="#222" stroke-width="1.05"/>
<circle cx="407.20" cy="308.40" r="1.55" fill="none" stroke="#222" stroke-width="1.05"/>
<circle cx="410.20" cy="309.60" r="1.55" fill="none" stroke="#222" stroke-width="1.05"/>
<circle cx="413.20" cy="308.60" r="1.55" fill="none" stroke="#222" stroke-width="1.05"/>
<circle cx="405.80" cy="310.80" r="1.55" fill="none" stroke="#222" stroke-width="1.05"/>
<circle cx="411.60" cy="310.80" r="1.55" fill="none" stroke="#222" stroke-width="1.05"/>
<circle cx="422.50" cy="309.60" r="1.55" fill="none" stroke="#222" stroke-width="1.05"/>
<circle cx="425.50" cy="308.40" r="1.55" fill="none" stroke="#222" stroke-width="1.05"/>
<circle cx="428.50" cy="309.60" r="1.55" fill="none" stroke="#222" stroke-width="1.05"/>
<circle cx="431.50" cy="308.60" r="1.55" fill="none" stroke="#222" stroke-width="1.05"/>
<circle cx="424.00" cy="310.80" r="1.55" fill="none" stroke="#222" stroke-width="1.05"/>
<circle cx="430.00" cy="310.80" r="1.55" fill="none" stroke="#222" stroke-width="1.05"/>
<circle cx="444.90" cy="283.50" r="1.6" fill="#111"/>
<circle cx="441.00" cy="289.70" r="1.6" fill="#111"/>
<circle cx="448.50" cy="290.60" r="1.6" fill="#111"/>
<circle cx="441.00" cy="293.80" r="1.6" fill="#111"/>
<circle cx="448.50" cy="295.00" r="1.6" fill="#111"/>
<circle cx="444.90" cy="297.50" r="1.6" fill="#111"/>
<circle cx="444.90" cy="300.40" r="1.6" fill="#111"/>
<circle cx="444.90" cy="303.80" r="1.6" fill="#111"/>
<circle cx="460.00" cy="237.90" r="1.6" fill="#111"/>
<circle cx="466.50" cy="237.90" r="1.6" fill="#111"/>
<circle cx="460.00" cy="241.60" r="1.6" fill="#111"/>
<circle cx="466.50" cy="241.60" r="1.6" fill="#111"/>
<circle cx="466.50" cy="244.10" r="1.6" fill="#111"/>
<circle cx="463.20" cy="252.60" r="1.6" fill="#111"/>
<circle cx="462.50" cy="266.60" r="1.6" fill="#111"/>
<circle cx="463.50" cy="270.30" r="1.6" fill="#111"/>
<circle cx="460.50" cy="277.60" r="1.6" fill="#111"/>
<circle cx="478.50" cy="309.50" r="1.6" fill="#111"/>
<circle cx="481.50" cy="307.50" r="1.6" fill="#111"/>
<circle cx="484.50" cy="309.50" r="1.6" fill="#111"/>
<circle cx="496.50" cy="309.50" r="1.6" fill="#111"/>
<circle cx="500.00" cy="308.50" r="1.6" fill="#111"/>
<circle cx="503.50" cy="309.50" r="1.6" fill="#111"/>
<line x1="369.50" y1="228.10" x2="390.50" y2="228.10" stroke="#4a4a4a" stroke-width="1.2"/>
<path d="M376.00,223.10V226.10M374.70,223.85L377.30,225.35M374.70,225.35L377.30,223.85" stroke="#333" stroke-width="0.9"/>
<path d="M380.00,223.10V226.10M378.70,223.85L381.30,225.35M378.70,225.35L381.30,223.85" stroke="#333" stroke-width="0.9"/>
<path d="M384.00,223.10V226.10M382.70,223.85L385.30,225.35M382.70,225.35L385.30,223.85" stroke="#333" stroke-width="0.9"/>
<line x1="371.50" y1="217.90" x2="407.70" y2="217.90" stroke="#4a4a4a" stroke-width="1.2"/>
<path d="M385.60,212.90V215.90M384.30,213.65L386.90,215.15M384.30,215.15L386.90,213.65" stroke="#333" stroke-width="0.9"/>
<path d="M389.60,212.90V215.90M388.30,213.65L390.90,215.15M388.30,215.15L390.90,213.65" stroke="#333" stroke-width="0.9"/>
<path d="M393.60,212.90V215.90M392.30,213.65L394.90,215.15M392.30,215.15L394.90,213.65" stroke="#333" stroke-width="0.9"/>
<line x1="393.00" y1="228.10" x2="429.20" y2="228.10" stroke="#4a4a4a" stroke-width="1.2"/>
<path d="M407.10,223.10V226.10M405.80,223.85L408.40,225.35M405.80,225.35L408.40,223.85" stroke="#333" stroke-width="0.9"/>
<path d="M411.10,223.10V226.10M409.80,223.85L412.40,225.35M409.80,225.35L412.40,223.85" stroke="#333" stroke-width="0.9"/>
<path d="M415.10,223.10V226.10M413.80,223.85L416.40,225.35M413.80,225.35L416.40,223.85" stroke="#333" stroke-width="0.9"/>
<line x1="442.60" y1="228.10" x2="463.80" y2="228.10" stroke="#4a4a4a" stroke-width="1.2"/>
<path d="M449.20,223.10V226.10M447.90,223.85L450.50,225.35M447.90,225.35L450.50,223.85" stroke="#333" stroke-width="0.9"/>
<path d="M453.20,223.10V226.10M451.90,223.85L454.50,225.35M451.90,225.35L454.50,223.85" stroke="#333" stroke-width="0.9"/>
<path d="M457.20,223.10V226.10M455.90,223.85L458.50,225.35M455.90,225.35L458.50,223.85" stroke="#333" stroke-width="0.9"/>
<line x1="444.60" y1="218.60" x2="480.80" y2="218.60" stroke="#4a4a4a" stroke-width="1.2"/>
<path d="M458.70,213.60V216.60M457.40,214.35L460.00,215.85M457.40,215.85L460.00,214.35" stroke="#333" stroke-width="0.9"/>
<path d="M462.70,213.60V216.60M461.40,214.35L464.00,215.85M461.40,215.85L464.00,214.35" stroke="#333" stroke-width="0.9"/>
<path d="M466.70,213.60V216.60M465.40,214.35L468.00,215.85M465.40,215.85L468.00,214.35" stroke="#333" stroke-width="0.9"/>
<line x1="465.70" y1="228.10" x2="502.00" y2="228.10" stroke="#4a4a4a" stroke-width="1.2"/>
<path d="M479.85,223.10V226.10M478.55,223.85L481.15,225.35M478.55,225.35L481.15,223.85" stroke="#333" stroke-width="0.9"/>
<path d="M483.85,223.10V226.10M482.55,223.85L485.15,225.35M482.55,225.35L485.15,223.85" stroke="#333" stroke-width="0.9"/>
<path d="M487.85,223.10V226.10M486.55,223.85L489.15,225.35M486.55,225.35L489.15,223.85" stroke="#333" stroke-width="0.9"/>
<line x1="372.00" y1="313.40" x2="372.00" y2="317.20" stroke="#333" stroke-width="1.0"/>
<line x1="369.70" y1="325.50" x2="374.30" y2="325.50" stroke="#444" stroke-width="1.0"/>
<text x="372.00" y="340.80" font-size="8.3" text-anchor="middle" font-weight="normal" style="" fill="#333" textLength="4.2" lengthAdjust="spacingAndGlyphs" >L</text>
<line x1="390.25" y1="313.40" x2="390.25" y2="317.20" stroke="#333" stroke-width="1.0"/>
<line x1="387.95" y1="325.50" x2="392.55" y2="325.50" stroke="#444" stroke-width="1.0"/>
<text x="390.25" y="340.80" font-size="8.3" text-anchor="middle" font-weight="normal" style="" fill="#333" textLength="13.4" lengthAdjust="spacingAndGlyphs" >L-A</text>
<line x1="408.50" y1="313.40" x2="408.50" y2="317.20" stroke="#333" stroke-width="1.0"/>
<line x1="406.20" y1="325.50" x2="410.80" y2="325.50" stroke="#444" stroke-width="1.0"/>
<line x1="408.50" y1="323.00" x2="408.50" y2="327.60" stroke="#444" stroke-width="1.0"/>
<text x="408.50" y="340.80" font-size="8.3" text-anchor="middle" font-weight="normal" style="" fill="#333" textLength="4.2" lengthAdjust="spacingAndGlyphs" >L</text>
<line x1="426.75" y1="313.40" x2="426.75" y2="317.20" stroke="#333" stroke-width="1.0"/>
<line x1="424.45" y1="325.50" x2="429.05" y2="325.50" stroke="#444" stroke-width="1.0"/>
<line x1="426.75" y1="323.00" x2="426.75" y2="327.60" stroke="#444" stroke-width="1.0"/>
<text x="426.75" y="340.80" font-size="8.3" text-anchor="middle" font-weight="normal" style="" fill="#333" textLength="13.4" lengthAdjust="spacingAndGlyphs" >L-A</text>
<line x1="445.00" y1="313.40" x2="445.00" y2="317.20" stroke="#333" stroke-width="1.0"/>
<line x1="442.70" y1="325.50" x2="447.30" y2="325.50" stroke="#444" stroke-width="1.0"/>
<text x="445.00" y="340.80" font-size="8.3" text-anchor="middle" font-weight="normal" style="" fill="#333" textLength="4.2" lengthAdjust="spacingAndGlyphs" >L</text>
<line x1="463.25" y1="313.40" x2="463.25" y2="317.20" stroke="#333" stroke-width="1.0"/>
<line x1="460.95" y1="325.50" x2="465.55" y2="325.50" stroke="#444" stroke-width="1.0"/>
<text x="463.25" y="340.80" font-size="8.3" text-anchor="middle" font-weight="normal" style="" fill="#333" textLength="13.4" lengthAdjust="spacingAndGlyphs" >L-A</text>
<line x1="481.50" y1="313.40" x2="481.50" y2="317.20" stroke="#333" stroke-width="1.0"/>
<line x1="479.20" y1="325.50" x2="483.80" y2="325.50" stroke="#444" stroke-width="1.0"/>
<line x1="481.50" y1="323.00" x2="481.50" y2="327.60" stroke="#444" stroke-width="1.0"/>
<text x="481.50" y="340.80" font-size="8.3" text-anchor="middle" font-weight="normal" style="" fill="#333" textLength="4.2" lengthAdjust="spacingAndGlyphs" >L</text>
<line x1="499.75" y1="313.40" x2="499.75" y2="317.20" stroke="#333" stroke-width="1.0"/>
<line x1="497.45" y1="325.50" x2="502.05" y2="325.50" stroke="#444" stroke-width="1.0"/>
<line x1="499.75" y1="323.00" x2="499.75" y2="327.60" stroke="#444" stroke-width="1.0"/>
<text x="499.75" y="340.80" font-size="8.3" text-anchor="middle" font-weight="normal" style="" fill="#333" textLength="13.4" lengthAdjust="spacingAndGlyphs" >L-A</text>
<line x1="366.80" y1="346.30" x2="434.00" y2="346.30" stroke="#333" stroke-width="1.3"/>
<line x1="440.40" y1="346.30" x2="509.90" y2="346.30" stroke="#333" stroke-width="1.3"/>
<text x="400.40" y="357.20" font-size="8.3" text-anchor="middle" font-weight="normal" style="" fill="#333" textLength="19" lengthAdjust="spacingAndGlyphs" >Male</text>
<text x="474.90" y="357.20" font-size="8.3" text-anchor="middle" font-weight="normal" style="" fill="#333" textLength="28.2" lengthAdjust="spacingAndGlyphs" >Female</text>
<text x="266.90" y="329.70" font-size="8.3" style="font-style:italic" fill="#333" textLength="21.6" lengthAdjust="spacingAndGlyphs">Bmp5</text>
<text x="289.90" y="326.10" font-size="7.4" style="font-style:italic" fill="#333" textLength="6.0" lengthAdjust="spacingAndGlyphs">se</text>
<text x="295.80" y="329.70" font-size="8.3" style="font-style:italic" fill="#333" textLength="27.9" lengthAdjust="spacingAndGlyphs">-Bmp6</text>
<text x="324.20" y="326.50" font-size="6.0" style="font-style:italic" fill="#333" textLength="2.6" lengthAdjust="spacingAndGlyphs">fl</text>
<text x="326.90" y="329.70" font-size="8.3" style="font-style:italic" fill="#333" textLength="32.0" lengthAdjust="spacingAndGlyphs">-Tek-Cre</text>
<text x="358.80" y="340.80" font-size="8.3" text-anchor="end" font-weight="normal" style="" fill="#333" textLength="16.8" lengthAdjust="spacingAndGlyphs" >Diet</text>
<text x="139.8" y="386.4" font-size="13.4" font-weight="bold" fill="#111" style="stroke:#111;stroke-width:0.45px">E</text>
<line x1="229.60" y1="392.50" x2="229.60" y2="490.40" stroke="#222" stroke-width="1.2"/>
<line x1="226.60" y1="489.80" x2="229.60" y2="489.80" stroke="#222" stroke-width="1.0"/>
<text x="223.30" y="493.25" font-size="9.6" text-anchor="end" font-weight="normal" style="" fill="#333" textLength="11.0" lengthAdjust="spacingAndGlyphs" >0.0</text>
<line x1="226.60" y1="470.74" x2="229.60" y2="470.74" stroke="#222" stroke-width="1.0"/>
<text x="223.30" y="474.19" font-size="9.6" text-anchor="end" font-weight="normal" style="" fill="#333" textLength="11.0" lengthAdjust="spacingAndGlyphs" >0.5</text>
<line x1="226.60" y1="451.68" x2="229.60" y2="451.68" stroke="#222" stroke-width="1.0"/>
<text x="223.30" y="455.13" font-size="9.6" text-anchor="end" font-weight="normal" style="" fill="#333" textLength="11.0" lengthAdjust="spacingAndGlyphs" >1.0</text>
<line x1="226.60" y1="432.62" x2="229.60" y2="432.62" stroke="#222" stroke-width="1.0"/>
<text x="223.30" y="436.07" font-size="9.6" text-anchor="end" font-weight="normal" style="" fill="#333" textLength="11.0" lengthAdjust="spacingAndGlyphs" >1.5</text>
<line x1="226.60" y1="413.56" x2="229.60" y2="413.56" stroke="#222" stroke-width="1.0"/>
<text x="223.30" y="417.01" font-size="9.6" text-anchor="end" font-weight="normal" style="" fill="#333" textLength="11.0" lengthAdjust="spacingAndGlyphs" >2.0</text>
<line x1="226.60" y1="394.50" x2="229.60" y2="394.50" stroke="#222" stroke-width="1.0"/>
<text x="223.30" y="397.95" font-size="9.6" text-anchor="end" font-weight="normal" style="" fill="#333" textLength="11.0" lengthAdjust="spacingAndGlyphs" >2.5</text>
<line x1="229.60" y1="489.80" x2="382.70" y2="489.80" stroke="#222" stroke-width="1.6"/>
<text transform="translate(193.6,439.8) rotate(-90)" x="0" y="0" font-size="10.2" text-anchor="middle" fill="#333" textLength="73" lengthAdjust="spacingAndGlyphs"><tspan style="font-style:italic">Bmp2/Rpl19</tspan><tspan style="font-style:normal"> mRNA</tspan></text>
<text transform="translate(205.2,440.6) rotate(-90)" x="0" y="0" font-size="10.2" text-anchor="middle" fill="#333" textLength="43" lengthAdjust="spacingAndGlyphs"><tspan style="font-style:normal">fold change</tspan></text>
<rect x="236.90" y="451.90" width="11.00" height="37.90" fill="#f7bf00"/>
<rect x="255.10" y="427.60" width="11.00" height="62.20" fill="url(#hy)"/>
<rect x="273.30" y="451.50" width="11.00" height="38.30" fill="#978ed1"/>
<rect x="291.50" y="443.70" width="11.00" height="46.10" fill="url(#hp)"/>
<rect x="309.70" y="452.20" width="11.00" height="37.60" fill="#f7bf00"/>
<rect x="327.90" y="423.20" width="11.00" height="66.60" fill="url(#hy)"/>
<rect x="346.10" y="437.80" width="11.00" height="52.00" fill="#978ed1"/>
<rect x="364.30" y="436.80" width="11.00" height="53.00" fill="url(#hp)"/>
<line x1="242.40" y1="447.90" x2="242.40" y2="455.60" stroke="#222" stroke-width="1.15"/>
<line x1="239.50" y1="447.90" x2="245.30" y2="447.90" stroke="#222" stroke-width="1.2"/>
<line x1="239.50" y1="455.60" x2="245.30" y2="455.60" stroke="#222" stroke-width="1.2"/>
<line x1="260.60" y1="421.50" x2="260.60" y2="430.60" stroke="#222" stroke-width="1.15"/>
<line x1="257.70" y1="421.50" x2="263.50" y2="421.50" stroke="#222" stroke-width="1.2"/>
<line x1="257.70" y1="430.60" x2="263.50" y2="430.60" stroke="#222" stroke-width="1.2"/>
<line x1="278.80" y1="447.60" x2="278.80" y2="455.40" stroke="#222" stroke-width="1.15"/>
<line x1="275.90" y1="447.60" x2="281.70" y2="447.60" stroke="#222" stroke-width="1.2"/>
<line x1="275.90" y1="455.40" x2="281.70" y2="455.40" stroke="#222" stroke-width="1.2"/>
<line x1="297.00" y1="438.00" x2="297.00" y2="447.00" stroke="#222" stroke-width="1.15"/>
<line x1="294.10" y1="438.00" x2="299.90" y2="438.00" stroke="#222" stroke-width="1.2"/>
<line x1="294.10" y1="447.00" x2="299.90" y2="447.00" stroke="#222" stroke-width="1.2"/>
<line x1="315.20" y1="447.80" x2="315.20" y2="456.60" stroke="#222" stroke-width="1.15"/>
<line x1="312.30" y1="447.80" x2="318.10" y2="447.80" stroke="#222" stroke-width="1.2"/>
<line x1="312.30" y1="456.60" x2="318.10" y2="456.60" stroke="#222" stroke-width="1.2"/>
<line x1="333.40" y1="418.80" x2="333.40" y2="427.60" stroke="#222" stroke-width="1.15"/>
<line x1="330.50" y1="418.80" x2="336.30" y2="418.80" stroke="#222" stroke-width="1.2"/>
<line x1="330.50" y1="427.60" x2="336.30" y2="427.60" stroke="#222" stroke-width="1.2"/>
<line x1="351.60" y1="425.20" x2="351.60" y2="448.40" stroke="#222" stroke-width="1.15"/>
<line x1="348.70" y1="425.20" x2="354.50" y2="425.20" stroke="#222" stroke-width="1.2"/>
<line x1="348.70" y1="448.40" x2="354.50" y2="448.40" stroke="#222" stroke-width="1.2"/>
<line x1="369.80" y1="426.20" x2="369.80" y2="447.20" stroke="#222" stroke-width="1.15"/>
<line x1="366.90" y1="426.20" x2="372.70" y2="426.20" stroke="#222" stroke-width="1.2"/>
<line x1="366.90" y1="447.20" x2="372.70" y2="447.20" stroke="#222" stroke-width="1.2"/>
<circle cx="242.30" cy="437.20" r="1.55" fill="none" stroke="#222" stroke-width="1.05"/>
<circle cx="242.30" cy="445.00" r="1.55" fill="none" stroke="#222" stroke-width="1.05"/>
<circle cx="242.30" cy="453.40" r="1.55" fill="none" stroke="#222" stroke-width="1.05"/>
<circle cx="239.00" cy="461.80" r="1.55" fill="none" stroke="#222" stroke-width="1.05"/>
<circle cx="245.50" cy="461.80" r="1.55" fill="none" stroke="#222" stroke-width="1.05"/>
<circle cx="260.70" cy="415.90" r="1.55" fill="none" stroke="#222" stroke-width="1.05"/>
<circle cx="260.70" cy="420.00" r="1.55" fill="none" stroke="#222" stroke-width="1.05"/>
<circle cx="260.70" cy="424.70" r="1.55" fill="none" stroke="#222" stroke-width="1.05"/>
<circle cx="260.70" cy="426.20" r="1.55" fill="none" stroke="#222" stroke-width="1.05"/>
<circle cx="260.70" cy="445.00" r="1.55" fill="none" stroke="#222" stroke-width="1.05"/>
<circle cx="278.80" cy="438.20" r="1.55" fill="none" stroke="#222" stroke-width="1.05"/>
<circle cx="278.80" cy="441.50" r="1.55" fill="none" stroke="#222" stroke-width="1.05"/>
<circle cx="275.50" cy="452.60" r="1.55" fill="none" stroke="#222" stroke-width="1.05"/>
<circle cx="282.00" cy="450.90" r="1.55" fill="none" stroke="#222" stroke-width="1.05"/>
<circle cx="275.50" cy="455.90" r="1.55" fill="none" stroke="#222" stroke-width="1.05"/>
<circle cx="282.00" cy="456.40" r="1.55" fill="none" stroke="#222" stroke-width="1.05"/>
<circle cx="275.50" cy="458.60" r="1.55" fill="none" stroke="#222" stroke-width="1.05"/>
<circle cx="297.00" cy="423.60" r="1.55" fill="none" stroke="#222" stroke-width="1.05"/>
<circle cx="297.00" cy="429.40" r="1.55" fill="none" stroke="#222" stroke-width="1.05"/>
<circle cx="297.00" cy="441.50" r="1.55" fill="none" stroke="#222" stroke-width="1.05"/>
<circle cx="297.00" cy="449.80" r="1.55" fill="none" stroke="#222" stroke-width="1.05"/>
<circle cx="292.50" cy="457.00" r="1.55" fill="none" stroke="#222" stroke-width="1.05"/>
<circle cx="301.50" cy="457.00" r="1.55" fill="none" stroke="#222" stroke-width="1.05"/>
<circle cx="315.00" cy="433.50" r="1.6" fill="#111"/>
<circle cx="315.00" cy="437.90" r="1.6" fill="#111"/>
<circle cx="311.50" cy="452.90" r="1.6" fill="#111"/>
<circle cx="318.50" cy="452.90" r="1.6" fill="#111"/>
<circle cx="315.00" cy="454.10" r="1.6" fill="#111"/>
<circle cx="310.50" cy="463.20" r="1.6" fill="#111"/>
<circle cx="315.00" cy="462.00" r="1.6" fill="#111"/>
<circle cx="320.00" cy="463.20" r="1.6" fill="#111"/>
<circle cx="330.30" cy="408.10" r="1.6" fill="#111"/>
<circle cx="336.80" cy="405.60" r="1.6" fill="#111"/>
<circle cx="333.70" cy="414.00" r="1.6" fill="#111"/>
<circle cx="330.30" cy="422.10" r="1.6" fill="#111"/>
<circle cx="337.00" cy="424.30" r="1.6" fill="#111"/>
<circle cx="333.70" cy="426.50" r="1.6" fill="#111"/>
<circle cx="330.50" cy="434.60" r="1.6" fill="#111"/>
<circle cx="337.50" cy="435.60" r="1.6" fill="#111"/>
<circle cx="330.50" cy="437.50" r="1.6" fill="#111"/>
<circle cx="351.60" cy="416.60" r="1.6" fill="#111"/>
<circle cx="351.60" cy="437.30" r="1.6" fill="#111"/>
<circle cx="351.60" cy="457.60" r="1.6" fill="#111"/>
<circle cx="366.00" cy="424.50" r="1.6" fill="#111"/>
<circle cx="373.00" cy="426.50" r="1.6" fill="#111"/>
<circle cx="369.80" cy="457.60" r="1.6" fill="#111"/>
<line x1="240.20" y1="399.80" x2="260.90" y2="399.80" stroke="#4a4a4a" stroke-width="1.2"/>
<path d="M248.55,394.80V397.80M247.25,395.55L249.85,397.05M247.25,397.05L249.85,395.55" stroke="#333" stroke-width="0.9"/>
<path d="M252.55,394.80V397.80M251.25,395.55L253.85,397.05M251.25,397.05L253.85,395.55" stroke="#333" stroke-width="0.9"/>
<line x1="313.00" y1="400.00" x2="334.20" y2="400.00" stroke="#4a4a4a" stroke-width="1.2"/>
<path d="M321.60,395.00V398.00M320.30,395.75L322.90,397.25M320.30,397.25L322.90,395.75" stroke="#333" stroke-width="0.9"/>
<path d="M325.60,395.00V398.00M324.30,395.75L326.90,397.25M324.30,397.25L326.90,395.75" stroke="#333" stroke-width="0.9"/>
<line x1="242.40" y1="489.80" x2="242.40" y2="493.60" stroke="#333" stroke-width="1.0"/>
<line x1="240.10" y1="501.90" x2="244.70" y2="501.90" stroke="#444" stroke-width="1.0"/>
<text x="242.40" y="517.20" font-size="8.3" text-anchor="middle" font-weight="normal" style="" fill="#333" textLength="4.2" lengthAdjust="spacingAndGlyphs" >L</text>
<line x1="260.60" y1="489.80" x2="260.60" y2="493.60" stroke="#333" stroke-width="1.0"/>
<line x1="258.30" y1="501.90" x2="262.90" y2="501.90" stroke="#444" stroke-width="1.0"/>
<text x="260.60" y="517.20" font-size="8.3" text-anchor="middle" font-weight="normal" style="" fill="#333" textLength="13.4" lengthAdjust="spacingAndGlyphs" >L-A</text>
<line x1="278.80" y1="489.80" x2="278.80" y2="493.60" stroke="#333" stroke-width="1.0"/>
<line x1="276.50" y1="501.90" x2="281.10" y2="501.90" stroke="#444" stroke-width="1.0"/>
<line x1="278.80" y1="499.40" x2="278.80" y2="504.00" stroke="#444" stroke-width="1.0"/>
<text x="278.80" y="517.20" font-size="8.3" text-anchor="middle" font-weight="normal" style="" fill="#333" textLength="4.2" lengthAdjust="spacingAndGlyphs" >L</text>
<line x1="297.00" y1="489.80" x2="297.00" y2="493.60" stroke="#333" stroke-width="1.0"/>
<line x1="294.70" y1="501.90" x2="299.30" y2="501.90" stroke="#444" stroke-width="1.0"/>
<line x1="297.00" y1="499.40" x2="297.00" y2="504.00" stroke="#444" stroke-width="1.0"/>
<text x="297.00" y="517.20" font-size="8.3" text-anchor="middle" font-weight="normal" style="" fill="#333" textLength="13.4" lengthAdjust="spacingAndGlyphs" >L-A</text>
<line x1="315.20" y1="489.80" x2="315.20" y2="493.60" stroke="#333" stroke-width="1.0"/>
<line x1="312.90" y1="501.90" x2="317.50" y2="501.90" stroke="#444" stroke-width="1.0"/>
<text x="315.20" y="517.20" font-size="8.3" text-anchor="middle" font-weight="normal" style="" fill="#333" textLength="4.2" lengthAdjust="spacingAndGlyphs" >L</text>
<line x1="333.40" y1="489.80" x2="333.40" y2="493.60" stroke="#333" stroke-width="1.0"/>
<line x1="331.10" y1="501.90" x2="335.70" y2="501.90" stroke="#444" stroke-width="1.0"/>
<text x="333.40" y="517.20" font-size="8.3" text-anchor="middle" font-weight="normal" style="" fill="#333" textLength="13.4" lengthAdjust="spacingAndGlyphs" >L-A</text>
<line x1="351.60" y1="489.80" x2="351.60" y2="493.60" stroke="#333" stroke-width="1.0"/>
<line x1="349.30" y1="501.90" x2="353.90" y2="501.90" stroke="#444" stroke-width="1.0"/>
<line x1="351.60" y1="499.40" x2="351.60" y2="504.00" stroke="#444" stroke-width="1.0"/>
<text x="351.60" y="517.20" font-size="8.3" text-anchor="middle" font-weight="normal" style="" fill="#333" textLength="4.2" lengthAdjust="spacingAndGlyphs" >L</text>
<line x1="369.80" y1="489.80" x2="369.80" y2="493.60" stroke="#333" stroke-width="1.0"/>
<line x1="367.50" y1="501.90" x2="372.10" y2="501.90" stroke="#444" stroke-width="1.0"/>
<line x1="369.80" y1="499.40" x2="369.80" y2="504.00" stroke="#444" stroke-width="1.0"/>
<text x="369.80" y="517.20" font-size="8.3" text-anchor="middle" font-weight="normal" style="" fill="#333" textLength="13.4" lengthAdjust="spacingAndGlyphs" >L-A</text>
<line x1="237.00" y1="522.70" x2="304.20" y2="522.70" stroke="#333" stroke-width="1.3"/>
<line x1="310.60" y1="522.70" x2="380.10" y2="522.70" stroke="#333" stroke-width="1.3"/>
<text x="270.60" y="533.60" font-size="8.3" text-anchor="middle" font-weight="normal" style="" fill="#333" textLength="19" lengthAdjust="spacingAndGlyphs" >Male</text>
<text x="345.10" y="533.60" font-size="8.3" text-anchor="middle" font-weight="normal" style="" fill="#333" textLength="28.2" lengthAdjust="spacingAndGlyphs" >Female</text>
<text x="137.10" y="506.10" font-size="8.3" style="font-style:italic" fill="#333" textLength="21.6" lengthAdjust="spacingAndGlyphs">Bmp5</text>
<text x="160.10" y="502.50" font-size="7.4" style="font-style:italic" fill="#333" textLength="6.0" lengthAdjust="spacingAndGlyphs">se</text>
<text x="166.00" y="506.10" font-size="8.3" style="font-style:italic" fill="#333" textLength="27.9" lengthAdjust="spacingAndGlyphs">-Bmp6</text>
<text x="194.40" y="502.90" font-size="6.0" style="font-style:italic" fill="#333" textLength="2.6" lengthAdjust="spacingAndGlyphs">fl</text>
<text x="197.10" y="506.10" font-size="8.3" style="font-style:italic" fill="#333" textLength="32.0" lengthAdjust="spacingAndGlyphs">-Tek-Cre</text>
<text x="229.00" y="517.20" font-size="8.3" text-anchor="end" font-weight="normal" style="" fill="#333" textLength="16.8" lengthAdjust="spacingAndGlyphs" >Diet</text></svg></body></html>
